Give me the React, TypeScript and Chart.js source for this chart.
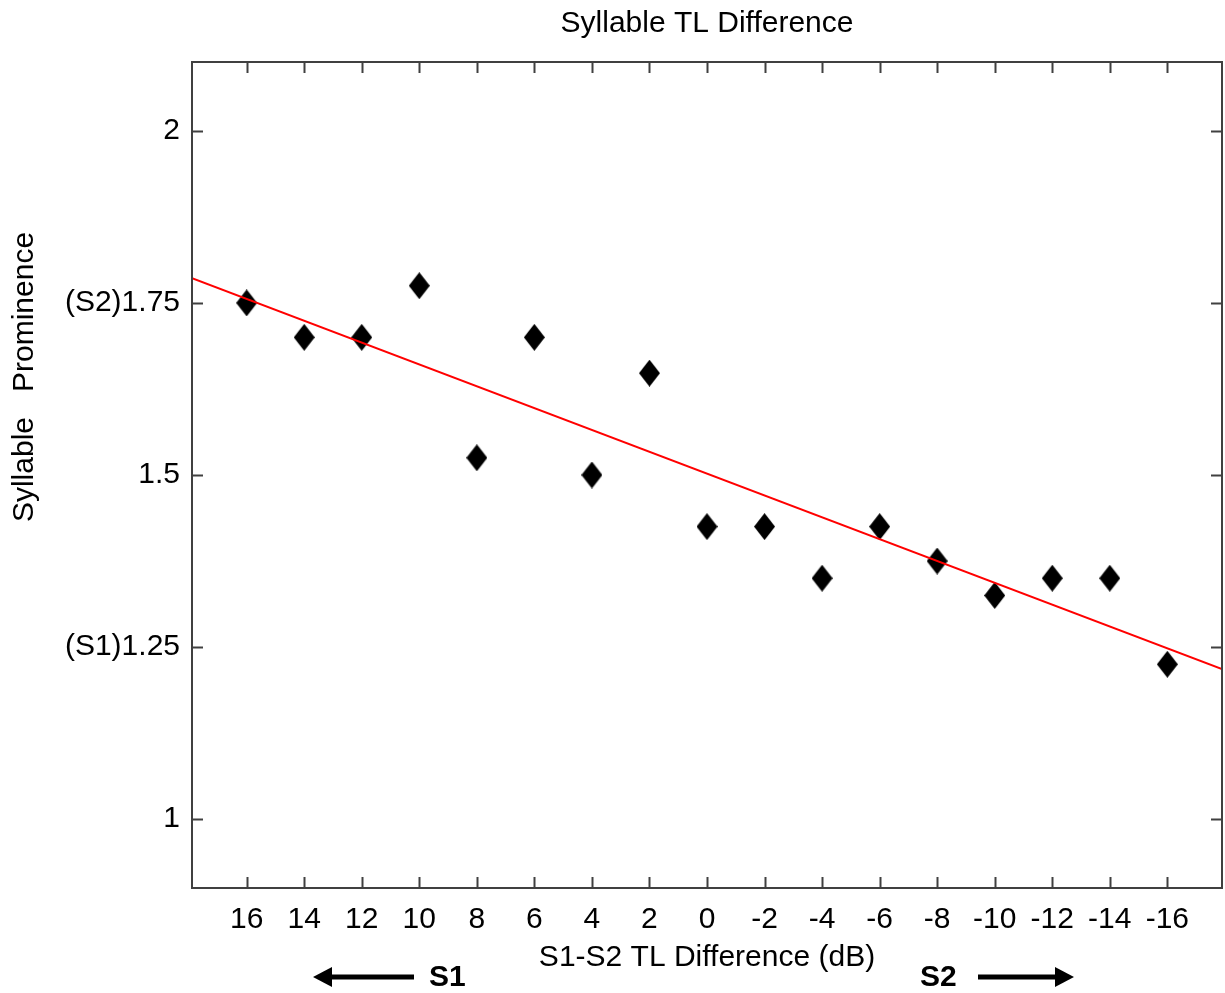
import React, { useEffect, useRef } from "react";
import { Chart, registerables } from "chart.js";

Chart.register(...registerables);

const CHART_TITLE = "Syllable TL Difference";
const X_TITLE = "S1-S2 TL Difference (dB)";
const Y_TITLE = "Syllable   Prominence";
const LEFT_NOTE = "S1";
const RIGHT_NOTE = "S2";

const xTickValues = [16, 14, 12, 10, 8, 6, 4, 2, 0, -2, -4, -6, -8, -10, -12, -14, -16];
const yTickValues = [1, 1.25, 1.5, 1.75, 2];
const yTickLabels = ["1", "(S1)1.25", "1.5", "(S2)1.75", "2"];

const dbDifference = [16, 14, 12, 10, 8, 6, 4, 2, 0, -2, -4, -6, -8, -10, -12, -14, -16];
const prominence = [1.75, 1.70, 1.70, 1.775, 1.525, 1.70, 1.50, 1.648, 1.425, 1.425, 1.35, 1.425, 1.375, 1.325, 1.35, 1.35, 1.225];

const fitX = [17.9, -17.9];
const fitY = [1.786, 1.218];

const FONT = "'Liberation Sans', Arial, sans-serif";
const FS = 30;

function makeDiamond(): HTMLCanvasElement {
  const c = document.createElement("canvas");
  c.width = 21;
  c.height = 27;
  const g = c.getContext("2d")!;
  g.fillStyle = "#000";
  g.beginPath();
  g.moveTo(10.5, 0);
  g.lineTo(21, 13.5);
  g.lineTo(10.5, 27);
  g.lineTo(0, 13.5);
  g.closePath();
  g.fill();
  return c;
}

const decorations = {
  id: "decorations",
  afterDraw(chart: any) {
    const { ctx, chartArea } = chart;
    const { left, right, top, bottom } = chartArea;
    const xs = chart.scales.x;
    const ys = chart.scales.y;
    ctx.save();
    ctx.strokeStyle = "#404040";
    ctx.lineWidth = 2;
    ctx.strokeRect(left, top, right - left, bottom - top);
    const TL = 11;
    ctx.beginPath();
    for (const v of xTickValues) {
      const px = Math.round(xs.getPixelForValue(v)) + 0.5;
      ctx.moveTo(px, bottom);
      ctx.lineTo(px, bottom - TL);
      ctx.moveTo(px, top);
      ctx.lineTo(px, top + TL);
    }
    for (const v of yTickValues) {
      const py = Math.round(ys.getPixelForValue(v)) + 0.5;
      ctx.moveTo(left, py);
      ctx.lineTo(left + TL, py);
      ctx.moveTo(right, py);
      ctx.lineTo(right - TL, py);
    }
    ctx.stroke();

    ctx.fillStyle = "#000";
    ctx.font = `${FS}px ${FONT}`;

    ctx.textAlign = "center";
    ctx.textBaseline = "alphabetic";
    ctx.fillText(CHART_TITLE, (left + right) / 2, 32);

    ctx.save();
    ctx.translate(33, 377);
    ctx.rotate(-Math.PI / 2);
    ctx.textAlign = "center";
    ctx.textBaseline = "alphabetic";
    ctx.fillText(Y_TITLE, 0, 0);
    ctx.restore();

    const ay = 977;
    ctx.font = `bold ${FS}px ${FONT}`;
    ctx.textBaseline = "middle";
    ctx.textAlign = "left";
    ctx.fillText(LEFT_NOTE, 429, ay + 1);
    ctx.fillText(RIGHT_NOTE, 920, ay + 1);
    ctx.fillRect(328, ay - 2.5, 86, 5);
    ctx.beginPath();
    ctx.moveTo(313, ay);
    ctx.lineTo(332, ay - 10);
    ctx.lineTo(332, ay + 10);
    ctx.closePath();
    ctx.fill();
    ctx.fillRect(978, ay - 2.5, 82, 5);
    ctx.beginPath();
    ctx.moveTo(1074, ay);
    ctx.lineTo(1055, ay - 10);
    ctx.lineTo(1055, ay + 10);
    ctx.closePath();
    ctx.fill();
    ctx.restore();
  },
};

export default function App() {
  const ref = useRef<HTMLCanvasElement>(null);
  useEffect(() => {
    if (!ref.current) return;
    const diamond = makeDiamond();
    const chart = new Chart(ref.current, {
      type: "scatter",
      data: {
        datasets: [
          {
            type: "line",
            label: "fit",
            data: fitX.map((x, i) => ({ x, y: fitY[i] })),
            borderColor: "#ff0000",
            borderWidth: 2,
            pointRadius: 0,
            fill: false,
            order: 0,
          } as any,
          {
            label: "prominence",
            data: dbDifference.map((x, i) => ({ x, y: prominence[i] })),
            pointStyle: diamond,
            pointRadius: 12,
            backgroundColor: "#000",
            borderColor: "#000",
            order: 1,
          } as any,
        ],
      },
      options: {
        animation: false,
        responsive: false,
        layout: { autoPadding: false, padding: { left: 0, right: 3, top: 62, bottom: 0 } },
        plugins: {
          legend: { display: false },
          tooltip: { enabled: false },
          title: { display: false },
        },
        scales: {
          x: {
            type: "linear",
            reverse: true,
            min: -17.9,
            max: 17.9,
            afterBuildTicks: (s: any) => {
              s.ticks = xTickValues.map((v) => ({ value: v }));
            },
            afterFit: (s: any) => {
              s.height = 105;
              s.paddingLeft = 0;
              s.paddingRight = 0;
            },
            grid: { display: false, drawTicks: false },
            border: { display: false },
            ticks: {
              padding: 14,
              color: "#000",
              autoSkip: false,
              maxRotation: 0,
              font: { size: FS, family: FONT },
              callback: (v: any) => String(v),
            },
            title: {
              display: true,
              text: X_TITLE,
              color: "#000",
              font: { size: FS, family: FONT },
              padding: { top: 0, bottom: 17 },
            },
          },
          y: {
            type: "linear",
            min: 0.9,
            max: 2.1,
            afterBuildTicks: (s: any) => {
              s.ticks = yTickValues.map((v) => ({ value: v }));
            },
            afterFit: (s: any) => {
              s.width = 192;
              s.paddingTop = 0;
              s.paddingBottom = 0;
            },
            grid: { display: false, drawTicks: false },
            border: { display: false },
            ticks: {
              padding: 12,
              color: "#000",
              autoSkip: false,
              font: { size: FS, family: FONT },
              callback: (v: any) => {
                const i = yTickValues.indexOf(Number(v));
                return i >= 0 ? yTickLabels[i] : "";
              },
            },
          },
        },
      },
      plugins: [decorations],
    });
    return () => chart.destroy();
  }, []);
  return (
    <div style={{ position: "absolute", left: 0, top: 0, width: 1225, height: 993, background: "#fff" }}>
      <canvas ref={ref} width={1225} height={993} style={{ display: "block" }} />
    </div>
  );
}
